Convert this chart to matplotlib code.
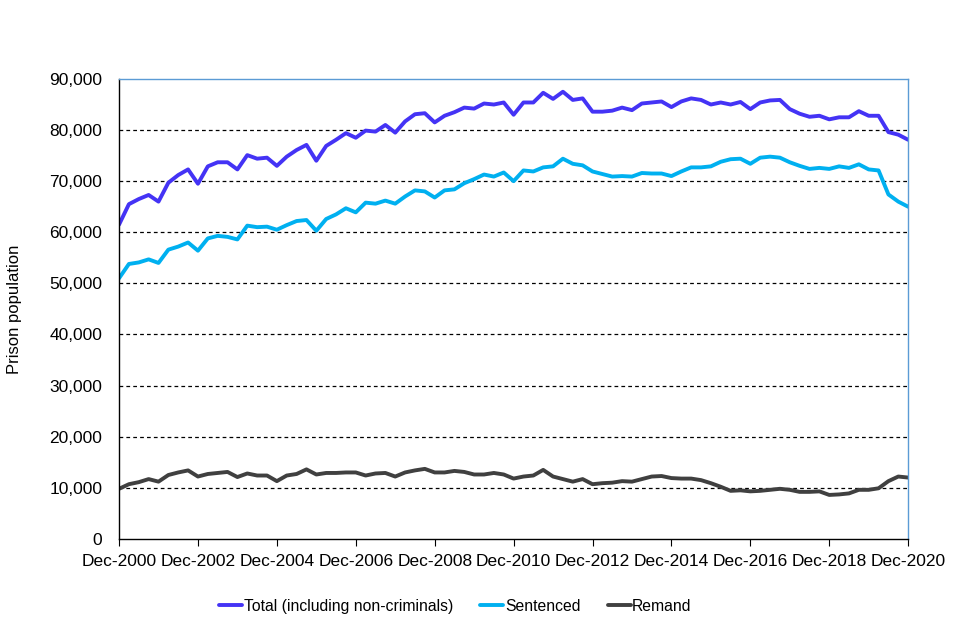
import matplotlib
matplotlib.use('Agg')
import matplotlib.pyplot as plt
import numpy as np

plt.rcParams['font.family'] = ['Liberation Sans', 'DejaVu Sans']

# Quarterly prison population, Dec-2000 to Dec-2020
total = [61500, 65500, 66500, 67300, 66000, 69700, 71200, 72300, 69500, 72900,
         73700, 73700, 72300, 75100, 74400, 74600, 73000, 74800, 76100, 77100,
         74000, 76900, 78100, 79400, 78500, 79900, 79700, 81000, 79500, 81700,
         83100, 83300, 81500, 82800, 83500, 84400, 84200, 85200, 85000, 85400,
         83000, 85400, 85400, 87300, 86100, 87500, 85900, 86200, 83600, 83600,
         83800, 84400, 83900, 85200, 85400, 85600, 84500, 85600, 86200, 85900,
         85000, 85400, 85000, 85500, 84100, 85400, 85800, 85900, 84100, 83200,
         82600, 82800, 82100, 82500, 82500, 83700, 82800, 82800, 79600, 79100,
         78100]
sentenced = [51000, 53800, 54100, 54700, 54000, 56600, 57200, 58000, 56400, 58800,
             59300, 59100, 58600, 61300, 61000, 61100, 60500, 61400, 62200, 62400,
             60300, 62600, 63500, 64700, 63900, 65800, 65600, 66200, 65600, 67000,
             68200, 68000, 66800, 68200, 68400, 69600, 70400, 71300, 70900, 71700,
             70000, 72100, 71900, 72700, 72900, 74400, 73400, 73100, 71900, 71400,
             70900, 71000, 70900, 71600, 71500, 71500, 71000, 71900, 72700, 72700,
             72900, 73800, 74300, 74400, 73400, 74600, 74800, 74600, 73700, 73000,
             72400, 72600, 72400, 72900, 72600, 73300, 72300, 72100, 67400, 66000,
             65000]
remand = [9800, 10700, 11100, 11700, 11200, 12500, 13000, 13400, 12200, 12700,
          12900, 13100, 12100, 12800, 12400, 12400, 11300, 12400, 12700, 13600,
          12600, 12900, 12900, 13000, 13000, 12400, 12800, 12900, 12200, 13000,
          13400, 13700, 13000, 13000, 13300, 13100, 12600, 12600, 12900, 12600,
          11800, 12200, 12400, 13500, 12200, 11700, 11200, 11700, 10700, 10900,
          11000, 11300, 11200, 11700, 12200, 12300, 11900, 11800, 11800, 11500,
          10900, 10200, 9400, 9500, 9300, 9400, 9600, 9800, 9600, 9200,
          9200, 9300, 8600, 8700, 8900, 9600, 9600, 9900, 11300, 12200,
          12000]
tick_labels = ['Dec-2000', 'Dec-2002', 'Dec-2004', 'Dec-2006', 'Dec-2008', 'Dec-2010',
               'Dec-2012', 'Dec-2014', 'Dec-2016', 'Dec-2018', 'Dec-2020']

x = np.arange(len(total))

fig = plt.figure(figsize=(9.6, 6.4), dpi=100)
ax = fig.add_axes([0.124, 0.158, 0.822, 0.7186])

ax.plot(x, total, color='#4433F5', lw=2.8, label='Total (including non-criminals)', solid_capstyle='round')
ax.plot(x, sentenced, color='#00B0F0', lw=2.8, label='Sentenced', solid_capstyle='round')
ax.plot(x, remand, color='#404040', lw=2.8, label='Remand', solid_capstyle='round')

ax.set_xlim(0, 80)
ax.set_ylim(0, 90000)
ax.set_yticks(np.arange(0, 90001, 10000))
ax.set_yticklabels(['{:,}'.format(v) for v in range(0, 90001, 10000)])
ax.set_xticks(np.arange(0, 81, 8))
ax.set_xticklabels(tick_labels)

# dashed gridlines (not at zero)
for v in range(10000, 90000, 10000):
    ax.axhline(v, color='black', lw=0.9, ls=(0, (3, 2.5)), zorder=0)

for s in ['left', 'bottom']:
    ax.spines[s].set_color('black')
    ax.spines[s].set_linewidth(1.0)
for s in ['top', 'right']:
    ax.spines[s].set_color('#5B9BD5')
    ax.spines[s].set_linewidth(1.0)

ax.tick_params(axis='y', length=0, labelsize=12.5, pad=12)
ax.tick_params(axis='x', direction='out', length=5, labelsize=12.5, pad=6)

ax.set_ylabel('Prison population', fontsize=12, labelpad=20)

fig.legend(loc='center', bbox_to_anchor=(0.4745, 0.053), ncol=3, frameon=False,
           fontsize=11.3, handlelength=1.45, handletextpad=0.1, columnspacing=1.75)

fig.savefig('out.png', dpi=100)
